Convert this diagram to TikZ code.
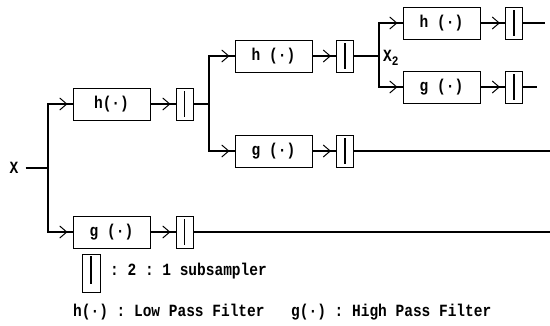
\documentclass[tikz,border=0pt]{standalone}
\usepackage{fontspec}
\usepackage{graphicx}
\setmonofont{Liberation Mono}
\usetikzlibrary{arrows.meta}
\newcommand\tallt[1]{\scalebox{1}[1.18]{#1}}
\begin{document}
\begin{tikzpicture}[x=1pt,y=-1pt,
  txt/.style={font=\ttfamily\bfseries\fontsize{14.5}{16}\selectfont, inner sep=0pt},
  filt/.style={draw,line width=1pt,minimum width=77pt,minimum height=32pt,inner sep=0pt,txt},
  sub/.style={draw,line width=1pt,minimum width=17pt,minimum height=32pt,inner sep=0pt,
    path picture={\draw[line width=1.1pt] ([yshift=-3pt]path picture bounding box.north) -- ([yshift=3pt]path picture bounding box.south);}},
  wire/.style={line width=1.2pt},
  chev/.style={line width=1pt,-{Straight Barb[length=7pt,width=12pt]},shorten >=5pt}]
\useasboundingbox[fill=white] (0,0) rectangle (550,325);
% nodes
\node[txt] (X) at (14,168) {\tallt{X}};
\coordinate (j0) at (48,168);
\node[filt] (h1) at (111.5,104) {\tallt{h(·)}};
\node[sub] (s1) at (184.5,104) {};
\node[filt] (g1) at (111.5,232) {\tallt{g (·)}};
\node[sub] (t1) at (184.5,232) {};
\coordinate (j1) at (209,104);
\node[filt] (h2) at (273.5,56) {\tallt{h (·)}};
\node[sub] (s2) at (345,56) {};
\node[filt] (g2) at (273.5,151) {\tallt{g (·)}};
\node[sub] (t2) at (345,151) {};
\coordinate (j2) at (379,56);
\node[txt,anchor=west] (X2) at (383,58) {\tallt{X\raisebox{-3pt}{\fontsize{11}{11}\selectfont 2}}};
\node[filt] (h3) at (441.5,23) {\tallt{h (·)}};
\node[sub] (s3) at (514,23) {};
\node[filt] (g3) at (441.5,87) {\tallt{g (·)}};
\node[sub] (t3) at (514,87) {};
\coordinate (o1) at (545,23);
\coordinate (o2) at (537,87);
\coordinate (o3) at (550,151);
\coordinate (o4) at (550,232);
% wires
\draw[wire] ([xshift=7pt]X.east) -- (j0);
\draw[wire] (h1.west) -| (j0) |- (g1.west);
\draw[wire] (h1.east) -- (s1.west);
\draw[wire] (g1.east) -- (t1.west);
\draw[wire] (s1.east) -- (j1);
\draw[wire] (h2.west) -| (j1) |- (g2.west);
\draw[wire] (h2.east) -- (s2.west);
\draw[wire] (g2.east) -- (t2.west);
\draw[wire] (s2.east) -- (j2);
\draw[wire] (h3.west) -| (j2) |- (g3.west);
\draw[wire] (h3.east) -- (s3.west);
\draw[wire] (g3.east) -- (t3.west);
\draw[wire] (s3.east) -- (o1);
\draw[wire] (t3.east) -- (o2);
\draw[wire] (t2.east) -- (o3);
\draw[wire] (t1.east) -- (o4);
% chevrons
\foreach \n in {h1,g1,h2,g2,h3,g3,s1,t1,s2,t2,s3,t3}
  \draw[chev] ([xshift=-13pt]\n.west) -- (\n.west);
% legend
\node[draw,line width=1pt,minimum width=18pt,minimum height=38pt,inner sep=0pt,
  path picture={\draw[line width=1.1pt] ([yshift=-2pt]path picture bounding box.north) -- ([yshift=8pt]path picture bounding box.south);}] (leg) at (91,273) {};
\node[txt,anchor=west] (legt) at (110,271) {\tallt{: 2 : 1 subsampler}};
\node[txt,anchor=west] (lp) at (73,312) {\tallt{h(·) : Low Pass Filter}};
\node[txt,anchor=west] (hp) at (291,312) {\tallt{g(·) : High Pass Filter}};
\end{tikzpicture}
\end{document}
